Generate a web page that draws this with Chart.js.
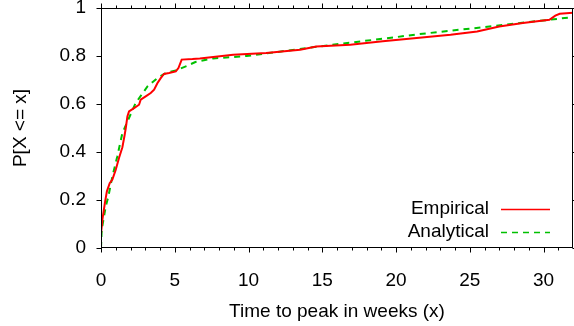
<!DOCTYPE html>
<html>
<head>
<meta charset="utf-8">
<script src="https://cdn.jsdelivr.net/npm/chart.js@4/dist/chart.umd.min.js"></script>
<style>
  html, body { margin: 0; padding: 0; background: #fff; }
  canvas { display: block; }
</style>
</head>
<body>
<canvas id="c" width="574" height="326"></canvas>
<script>
// ---- data ----
const empiricalX = [0, 0.0, 0.1, 0.27, 0.4, 0.59, 0.77, 1.0, 1.22, 1.45, 1.6, 1.68, 1.79, 1.9, 2.24, 2.58, 2.69, 3.03, 3.37, 3.6, 3.83, 4.05, 4.27, 4.61, 5.07, 5.25, 5.47, 6.2, 6.7, 8.96, 11.2, 13.5, 14.6, 16.9, 19.1, 21.4, 23.7, 25.5, 27.0, 28.6, 30.4, 30.8, 31.1, 32];
const empiricalY = [0, 0.06, 0.12, 0.19, 0.236, 0.27, 0.285, 0.326, 0.375, 0.42, 0.47, 0.5, 0.548, 0.569, 0.583, 0.597, 0.618, 0.632, 0.646, 0.66, 0.6875, 0.708, 0.725, 0.729, 0.736, 0.75, 0.785, 0.7875, 0.79, 0.805, 0.8125, 0.826, 0.84, 0.847, 0.861, 0.875, 0.889, 0.9025, 0.923, 0.9375, 0.951, 0.968, 0.976, 0.98];
const analyticalX = [0, 0.05, 0.32, 0.5, 0.77, 1.1, 1.45, 1.79, 2.35, 3.15, 3.83, 4.39, 5.07, 5.75, 6.4, 7.6, 9.86, 12.1, 15.7, 19.8, 21.4, 25.9, 30.4, 32];
const analyticalY = [0, 0.076, 0.173, 0.215, 0.298, 0.38, 0.479, 0.527, 0.604, 0.673, 0.708, 0.729, 0.74, 0.757, 0.775, 0.79, 0.80, 0.818, 0.847, 0.877, 0.89, 0.92, 0.951, 0.962];
const seriesNames = ['Empirical', 'Analytical'];
const xTickValues = [0, 5, 10, 15, 20, 25, 30];
const xTickLabels = ['0', '5', '10', '15', '20', '25', '30'];
const xMinorValues = [1,2,3,4,6,7,8,9,11,12,13,14,16,17,18,19,21,22,23,24,26,27,28,29,31];
const yTickValues = [0, 0.2, 0.4, 0.6, 0.8, 1];
const yTickLabels = ['0', '0.2', '0.4', '0.6', '0.8', '1'];
const xTitle = 'Time to peak in weeks (x)';
const yTitle = 'P[X <= x]';

const FONT = "'Liberation Sans', Arial, sans-serif";
Chart.defaults.font.family = FONT;
Chart.defaults.font.size = 19;
Chart.defaults.color = '#000';

const framePlugin = {
  id: 'frame',
  afterDraw(chart) {
    const ctx = chart.ctx;
    const a = chart.chartArea;
    const xs = chart.scales.x, ys = chart.scales.y;
    ctx.save();
    ctx.strokeStyle = '#000';
    ctx.lineWidth = 1;
    const L = Math.round(a.left) + 0.5, R = Math.round(a.right) - 0.5;
    const T = Math.round(a.top) + 0.5, B = Math.round(a.bottom) - 0.5;
    ctx.strokeRect(L, T, R - L, B - T);
    ctx.beginPath();
    xTickValues.forEach(v => {
      const p = Math.round(xs.getPixelForValue(v)) + 0.5;
      ctx.moveTo(p, B); ctx.lineTo(p, B + 5);
      ctx.moveTo(p, T); ctx.lineTo(p, T - 5);
    });
    xMinorValues.forEach(v => {
      const p = Math.round(xs.getPixelForValue(v)) + 0.5;
      ctx.moveTo(p, B); ctx.lineTo(p, B + 3);
      ctx.moveTo(p, T); ctx.lineTo(p, T - 3);
    });
    yTickValues.forEach(v => {
      const p = Math.round(ys.getPixelForValue(v)) + 0.5;
      ctx.moveTo(L, p); ctx.lineTo(L - 5, p);
      ctx.moveTo(R, p); ctx.lineTo(R + 5, p);
    });
    ctx.stroke();

    // legend (inside, bottom right)
    ctx.font = '19px ' + FONT;
    ctx.textAlign = 'right';
    ctx.textBaseline = 'alphabetic';
    ctx.fillStyle = '#000';
    const ds = chart.data.datasets;
    const rows = [214, 237];
    const lineY = [209.5, 232.5];
    ds.forEach((d, i) => {
      ctx.fillText(d.label, 489, rows[i]);
      ctx.beginPath();
      ctx.strokeStyle = d.borderColor;
      ctx.lineWidth = 1.5;
      ctx.setLineDash(d.borderDash || []);
      ctx.moveTo(501, lineY[i]); ctx.lineTo(550, lineY[i]);
      ctx.stroke();
      ctx.setLineDash([]);
    });
    ctx.restore();
  }
};

new Chart(document.getElementById('c'), {
  type: 'scatter',
  data: {
    datasets: [
      {
        label: seriesNames[0],
        data: empiricalX.map((x, i) => ({ x: x, y: empiricalY[i] })),
        showLine: true, pointRadius: 0, borderColor: '#ff0000', borderWidth: 2, tension: 0
      },
      {
        label: seriesNames[1],
        data: analyticalX.map((x, i) => ({ x: x, y: analyticalY[i] })),
        showLine: true, pointRadius: 0, borderColor: '#00c000', borderWidth: 2, borderDash: [6, 5], tension: 0
      }
    ]
  },
  options: {
    responsive: false,
    animation: false,
    devicePixelRatio: 1,
    layout: { padding: { top: 8, right: 1, left: 0, bottom: 0 } },
    plugins: { legend: { display: false }, tooltip: { enabled: false } },
    scales: {
      x: {
        type: 'linear', min: 0, max: 32,
        afterBuildTicks: s => { s.ticks = xTickValues.map(v => ({ value: v })); },
        afterFit: s => { s.height = 78; s.paddingLeft = 0; s.paddingRight = 0; },
        ticks: { padding: 21, maxRotation: 0, autoSkip: false, color: '#000',
                 callback: (v, i) => xTickLabels[i] },
        grid: { display: false, drawTicks: false },
        border: { display: false },
        title: { display: true, text: xTitle, color: '#000', padding: { top: 0, bottom: 3 } }
      },
      y: {
        type: 'linear', min: 0, max: 1,
        afterBuildTicks: s => { s.ticks = yTickValues.map(v => ({ value: v })); },
        afterFit: s => { s.width = 101; s.paddingTop = 0; s.paddingBottom = 0; },
        ticks: { padding: 15, color: '#000', callback: (v, i) => yTickLabels[i] },
        grid: { display: false, drawTicks: false },
        border: { display: false },
        title: { display: true, text: yTitle, color: '#000', padding: { top: 9, bottom: 0 } }
      }
    }
  },
  plugins: [framePlugin]
});
</script>
</body>
</html>
